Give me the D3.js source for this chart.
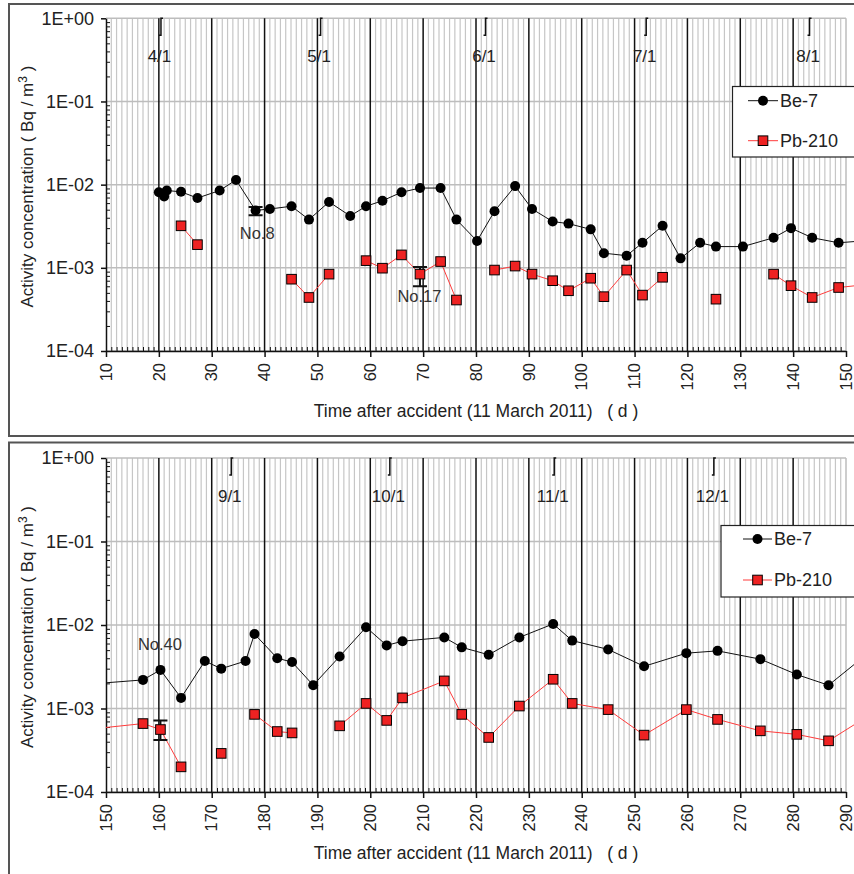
<!DOCTYPE html>
<html><head><meta charset="utf-8">
<script src="https://cdn.jsdelivr.net/npm/d3@7"></script>
<style>body{margin:0;background:#fff}svg{display:block;font-family:"Liberation Sans",Arial,sans-serif}</style>
</head><body><svg id="c" width="854" height="874"></svg>
<script>
// ---- data ----
const days  = [20.0,21.0,21.5,24.2,27.3,31.5,34.6,38.3,41.0,45.1,48.4,52.2,56.2,59.2,62.3,65.9,69.4,73.3,76.3,80.2,83.5,87.4,90.6,94.5,97.5,101.7,104.2,108.5,111.5,115.3,118.7,122.4,125.4,130.5,136.3,139.6,143.6,148.6,
               157.0,160.3,164.2,168.7,171.8,176.4,178.1,182.4,185.2,189.2,194.2,199.2,203.1,206.1,214.0,217.3,222.4,228.2,234.6,238.2,245.0,251.8,259.8,265.7,273.8,280.7,286.7,294.0];
const be7   = [0.0081,0.0072,0.0085,0.0082,0.0069,0.0085,0.0114,0.0049,0.0051,0.0055,0.0038,0.0062,0.0042,0.0055,0.0064,0.0081,0.0091,0.0091,0.0038,0.0021,0.0048,0.0096,0.0051,0.0036,0.0034,0.0029,0.0015,0.0014,0.0020,0.0032,0.0013,0.0020,0.0018,0.0018,0.0023,0.0030,0.0023,0.0020,
               0.0022,0.0029,0.00134,0.0037,0.0030,0.0037,0.0078,0.0040,0.0036,0.0019,0.0042,0.0094,0.0057,0.0064,0.0071,0.0054,0.0044,0.0071,0.0103,0.0065,0.0051,0.0032,0.0046,0.0049,0.0039,0.00255,0.0019,0.0045];
const pb210 = [null,null,null,0.0032,0.0019,null,null,null,null,0.00073,0.00044,0.00084,null,0.00122,0.00099,0.00143,0.00084,0.00119,0.00041,null,0.00094,0.00105,0.00084,0.00070,0.00053,0.00075,0.00045,0.00094,0.00047,0.00077,null,null,0.00042,null,0.00084,0.00061,0.00044,0.00058,
               0.00066,0.00056,0.00020,null,0.00029,null,0.00085,0.00053,0.00051,null,0.00062,0.00115,0.00072,0.00134,0.00214,0.00085,0.00045,0.00107,0.00224,0.00115,0.00097,0.00048,0.00097,0.00074,0.00054,0.00049,0.00041,0.0008];
const xTicksTop    = [10,20,30,40,50,60,70,80,90,100,110,120,130,140,150];
const xTicksBottom = [150,160,170,180,190,200,210,220,230,240,250,260,270,280,290];
const yTickValues = [1e-4,1e-3,1e-2,1e-1,1];
const yTickLabels = ["1E-04","1E-03","1E-02","1E-01","1E+00"];
const monthDays   = [20.4,50.6,81.8,112.2,143.1,173.7,203.7,234.8,265.0];
const monthLabels = ["4/1","5/1","6/1","7/1","8/1","9/1","10/1","11/1","12/1"];
const errDays = [38.3,69.4,160.3];
const errLow  = [0.0043,0.00060,0.00042];
const errHigh = [0.0054,0.00102,0.00072];
const annoText = ["No.8","No.17","No.40"];
const annoDays = [38.6,69.3,160.2];
const annoVals = [0.0022,0.00039,0.0050];
const seriesNames = ["Be-7","Pb-210"];

// ---- layout ----
const X0 = 106, X1 = 846;
const panels = [
  {domain:[10,150], ticks:xTicksTop, top:18.3, bottom:351, frameTop:4, frameBottom:436, titleY:417,
   leg:{x:732.5,y:86.5,h:70.5,r1:100.7,r2:140.7,l0:748,l1:778,tx:780}},
  {domain:[150,290], ticks:xTicksBottom, top:458, bottom:792, frameTop:442.5, frameBottom:null, titleY:859,
   leg:{x:721,y:525.5,h:71.5,r1:539,r2:580,l0:743,l1:772,tx:774}}
];
const svg = d3.select("#c");
const TXT = "#222";

panels.forEach((p,pi)=>{
  const x = d3.scaleLinear().domain(p.domain).range([X0,X1]);
  const y = d3.scaleLog().domain([1e-4,1]).range([p.bottom,p.top]);
  const g = svg.append("g");
  const fb = p.frameBottom == null ? 880 : p.frameBottom;
  g.append("path").attr("d",`M860,${p.frameTop}H9V${fb}H860`).attr("fill","none").attr("stroke","#555").attr("stroke-width",2);

  // minor vertical grid (every day)
  const dayGrid = d3.range(p.domain[0], p.domain[1]+1).filter(d=>d%10!==0);
  g.append("g").selectAll("line").data(dayGrid).join("line")
    .attr("x1",d=>x(d)).attr("x2",d=>x(d)).attr("y1",p.top).attr("y2",p.bottom)
    .attr("stroke","#c6c6c6").attr("stroke-width",1.2);
  // horizontal grid
  g.append("g").selectAll("line").data(yTickValues).join("line")
    .attr("x1",X0).attr("x2",X1).attr("y1",d=>y(d)).attr("y2",d=>y(d))
    .attr("stroke","#bdbdbd").attr("stroke-width",1.5);
  g.append("line").attr("x1",X1).attr("x2",X1).attr("y1",p.top).attr("y2",p.bottom).attr("stroke","#bdbdbd").attr("stroke-width",1.5);
  // major vertical lines
  g.append("g").selectAll("line").data(p.ticks.slice(1,-1)).join("line")
    .attr("x1",d=>x(d)).attr("x2",d=>x(d)).attr("y1",p.top).attr("y2",p.bottom)
    .attr("stroke","#111").attr("stroke-width",1.5);

  // x axis
  const xa = g.append("g").attr("transform",`translate(0,${p.bottom})`);
  xa.call(d3.axisBottom(x).tickValues(dayGrid).tickSize(-4).tickSizeOuter(0).tickFormat(""));
  xa.call(gg=>gg.select(".domain").remove());
  xa.selectAll("line").attr("stroke","#111").attr("stroke-width",1);
  const xb = g.append("g").attr("transform",`translate(0,${p.bottom})`)
    .call(d3.axisBottom(x).tickValues(p.ticks).tickSize(6).tickSizeOuter(0).tickFormat(d3.format("d")));
  xb.select(".domain").attr("stroke","#111").attr("stroke-width",1.5);
  xb.selectAll("line").attr("stroke","#111").attr("stroke-width",1.5);
  xb.selectAll("text").attr("transform","translate(0,6) rotate(-90)").attr("x",-6).attr("y",0).attr("dy","0.32em")
    .attr("text-anchor","end").attr("font-size",16.5).attr("fill",TXT).attr("font-family","Liberation Sans, Arial, sans-serif");

  // y axis
  const minorY = [];
  yTickValues.slice(0,-1).forEach(v=>{ for(let k=2;k<=9;k++) minorY.push(v*k); });
  const ya = g.append("g").attr("transform",`translate(${X0},0)`)
    .call(d3.axisLeft(y).tickValues(minorY).tickSize(-4).tickSizeOuter(0).tickFormat(""));
  ya.select(".domain").remove();
  ya.selectAll("line").attr("stroke","#111");
  const yb = g.append("g").attr("transform",`translate(${X0},0)`)
    .call(d3.axisLeft(y).tickValues(yTickValues).tickSize(5).tickSizeOuter(0).tickFormat((d,i)=>yTickLabels[i]));
  yb.select(".domain").attr("stroke","#111").attr("stroke-width",1.5);
  yb.selectAll("line").attr("stroke","#111").attr("stroke-width",1.5);
  yb.selectAll("text").attr("x",-12).attr("font-size",18).attr("fill",TXT).attr("font-family","Liberation Sans, Arial, sans-serif");

  // axis titles
  const yt = g.append("text").attr("transform",`translate(33,${(p.top+p.bottom)/2+2}) rotate(-90)`)
    .attr("text-anchor","middle").attr("font-size",17).attr("fill",TXT);
  yt.append("tspan").text("Activity concentration ( Bq / m");
  yt.append("tspan").attr("dy",-6).attr("font-size",12).text("3");
  yt.append("tspan").attr("dy",6).text(" )");
  g.append("text").attr("x",476).attr("y",p.titleY).attr("text-anchor","middle").attr("font-size",17.5).attr("fill",TXT)
    .attr("xml:space","preserve").text("Time after accident (11 March 2011)   ( d )");

  // month markers
  const mIdx = monthDays.map((d,i)=>i).filter(i=>monthDays[i]>p.domain[0] && monthDays[i]<p.domain[1]);
  g.append("g").selectAll("path").data(mIdx).join("path")
    .attr("d",i=>{const mx=x(monthDays[i]);return `M${mx+2},${p.top}H${mx}V${p.top+17}H${mx-2}`;})
    .attr("fill","none").attr("stroke","#111").attr("stroke-width",1.5);
  g.append("g").selectAll("text").data(mIdx).join("text")
    .attr("x",i=>x(monthDays[i])-1.5).attr("y",p.top+44).attr("text-anchor","middle")
    .attr("font-size",17).attr("fill",TXT).text(i=>monthLabels[i]);

  // clip
  const cid = "clip"+pi;
  svg.append("defs").append("clipPath").attr("id",cid).append("rect")
    .attr("x",X0).attr("y",p.top-10).attr("width",860-X0).attr("height",p.bottom-p.top+20);
  const cg = g.append("g").attr("clip-path",`url(#${cid})`);

  const idx = d3.range(days.length);
  const lineBe = d3.line().x(i=>x(days[i])).y(i=>y(be7[i]));
  const linePb = d3.line().defined(i=>pb210[i]!=null).x(i=>x(days[i])).y(i=>y(pb210[i]));
  cg.append("path").attr("d",lineBe(idx)).attr("fill","none").attr("stroke","#111").attr("stroke-width",1);
  cg.append("path").attr("d",linePb(idx)).attr("fill","none").attr("stroke","#ff3b3b").attr("stroke-width",1);

  // error bars
  const eIdx = errDays.map((d,i)=>i).filter(i=>errDays[i]>=p.domain[0]&&errDays[i]<=p.domain[1]);
  cg.append("g").selectAll("path").data(eIdx).join("path")
    .attr("d",i=>{const ex=x(errDays[i]),y1=y(errLow[i]),y2=y(errHigh[i]);
      return `M${ex-7},${y1}H${ex+7}M${ex-7},${y2}H${ex+7}M${ex},${y1}V${y2}`;})
    .attr("stroke","#111").attr("stroke-width",2).attr("fill","none");

  // markers
  const beIdx = idx.filter(i=>days[i]>=p.domain[0]-2 && days[i]<=p.domain[1]+2);
  cg.append("g").selectAll("circle").data(beIdx).join("circle")
    .attr("cx",i=>x(days[i])).attr("cy",i=>y(be7[i])).attr("r",5).attr("fill","#000");
  const pbIdx = beIdx.filter(i=>pb210[i]!=null);
  cg.append("g").selectAll("rect").data(pbIdx).join("rect")
    .attr("x",i=>x(days[i])-4.8).attr("y",i=>y(pb210[i])-4.8).attr("width",9.6).attr("height",9.6)
    .attr("fill","#ee2222").attr("stroke","#000").attr("stroke-width",1);

  // annotations
  const aIdx = annoDays.map((d,i)=>i).filter(i=>annoDays[i]>=p.domain[0]&&annoDays[i]<=p.domain[1]);
  g.append("g").selectAll("text").data(aIdx).join("text")
    .attr("x",i=>x(annoDays[i])).attr("y",i=>y(annoVals[i])).attr("text-anchor","middle")
    .attr("font-size",16.5).attr("fill","#333").text(i=>annoText[i]);

  // legend
  const L = p.leg;
  const lg = g.append("g");
  lg.append("rect").attr("x",L.x).attr("y",L.y).attr("width",860-L.x).attr("height",L.h)
    .attr("fill","#fff").attr("stroke","#222").attr("stroke-width",1.2);
  const lm = (L.l0+L.l1)/2;
  lg.append("line").attr("x1",L.l0).attr("x2",L.l1).attr("y1",L.r1).attr("y2",L.r1).attr("stroke","#111");
  lg.append("circle").attr("cx",lm).attr("cy",L.r1).attr("r",5).attr("fill","#000");
  lg.append("line").attr("x1",L.l0).attr("x2",L.l1).attr("y1",L.r2).attr("y2",L.r2).attr("stroke","#ff3b3b");
  lg.append("rect").attr("x",lm-4.8).attr("y",L.r2-4.8).attr("width",9.6).attr("height",9.6).attr("fill","#ee2222").attr("stroke","#000");
  lg.append("text").attr("x",L.tx).attr("y",L.r1).attr("dy","0.35em").attr("font-size",18).attr("fill",TXT).text(seriesNames[0]);
  lg.append("text").attr("x",L.tx).attr("y",L.r2).attr("dy","0.35em").attr("font-size",18).attr("fill",TXT).text(seriesNames[1]);
});
</script></body></html>
